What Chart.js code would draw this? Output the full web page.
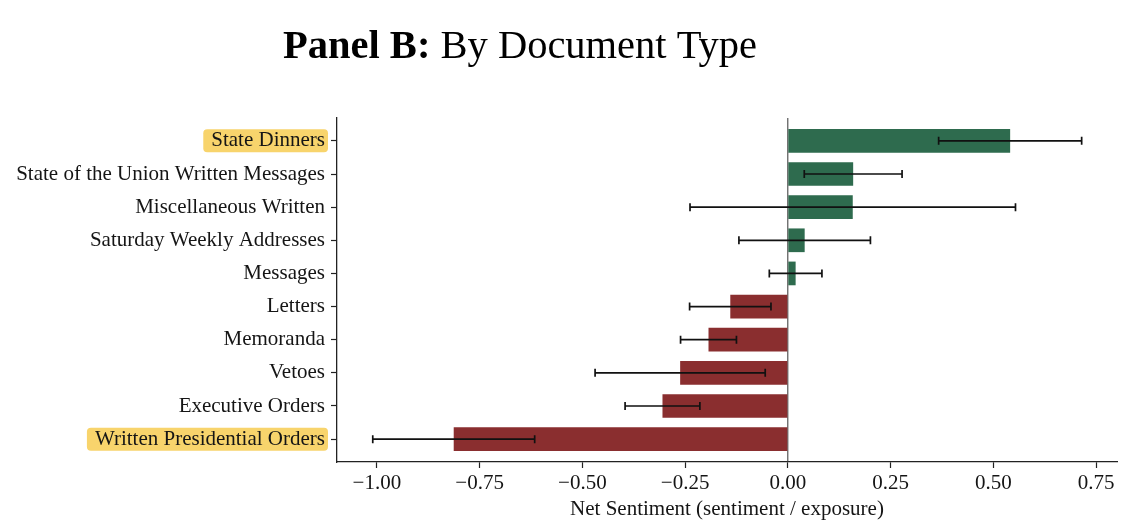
<!DOCTYPE html>
<html>
<head>
<meta charset="utf-8">
<title>Panel B: By Document Type</title>
<script src="https://cdn.jsdelivr.net/npm/chart.js@4.4.1/dist/chart.umd.min.js"></script>
<style>
  html, body { margin: 0; padding: 0; background: #fff; }
  #wrap { width: 1138px; height: 532px; position: relative; }
</style>
</head>
<body>
<div id="wrap"><canvas id="chart"></canvas></div>
<script>
// document types, top to bottom
const categories = [
  'State Dinners',
  'State of the Union Written Messages',
  'Miscellaneous Written',
  'Saturday Weekly Addresses',
  'Messages',
  'Letters',
  'Memoranda',
  'Vetoes',
  'Executive Orders',
  'Written Presidential Orders'
];
// net sentiment (sentiment / exposure)
const netSentiment = [0.541, 0.159, 0.158, 0.041, 0.019, -0.140, -0.193, -0.262, -0.305, -0.813];
// half width of the error bars
const errHalf = [0.174, 0.119, 0.396, 0.160, 0.064, 0.099, 0.068, 0.207, 0.091, 0.197];
const xTicks = [-1.00, -0.75, -0.50, -0.25, 0.00, 0.25, 0.50, 0.75];
const highlighted = ['State Dinners', 'Written Presidential Orders'];

const GREEN = '#2e6b4e';
const RED   = '#8a2e2f';
const INK   = '#151515';
const FONT  = '"Liberation Serif", "Times New Roman", serif';

// yellow boxes behind the highlighted labels
const labelHighlight = {
  id: 'labelHighlight',
  beforeDraw(chart) {
    const ctx = chart.ctx;
    const ys  = chart.scales.y;
    const right = ys.right - 6 - 6;
    ctx.save();
    ctx.font = '21px ' + FONT;
    ctx.fillStyle = '#f8d46c';
    highlighted.forEach(name => {
      const i  = categories.indexOf(name);
      const y  = ys.getPixelForValue(i);
      const w  = ctx.measureText(name).width;
      const x0 = right - w - 8, x1 = right + 3;
      ctx.beginPath();
      ctx.roundRect(x0, y - 11.5, x1 - x0, 23, 4);
      ctx.fill();
    });
    ctx.restore();
  }
};

// zero line and error bars
const errorBars = {
  id: 'errorBars',
  beforeDatasetsDraw(chart) {
    const { ctx, chartArea } = chart;
    const x0 = chart.scales.x.getPixelForValue(0);
    ctx.save();
    ctx.strokeStyle = '#333';
    ctx.lineWidth = 1;
    ctx.beginPath();
    ctx.moveTo(x0, chartArea.top);
    ctx.lineTo(x0, chartArea.bottom);
    ctx.stroke();
    ctx.restore();
  },
  afterDatasetsDraw(chart) {
    const ctx = chart.ctx;
    const xs = chart.scales.x, ys = chart.scales.y;
    ctx.save();
    ctx.strokeStyle = '#111';
    ctx.lineWidth = 1.7;
    netSentiment.forEach((v, i) => {
      const y  = ys.getPixelForValue(i);
      const a  = xs.getPixelForValue(v - errHalf[i]);
      const b  = xs.getPixelForValue(v + errHalf[i]);
      ctx.beginPath();
      ctx.moveTo(a, y); ctx.lineTo(b, y);
      ctx.moveTo(a, y - 4); ctx.lineTo(a, y + 4);
      ctx.moveTo(b, y - 4); ctx.lineTo(b, y + 4);
      ctx.stroke();
    });
    ctx.restore();
  }
};

// title with a bold part
const panelTitle = {
  id: 'panelTitle',
  afterDraw(chart) {
    const ctx = chart.ctx;
    ctx.save();
    ctx.fillStyle = '#000';
    ctx.textBaseline = 'alphabetic';
    ctx.textAlign = 'left';
    ctx.font = 'bold 40.5px ' + FONT;
    const bold = 'Panel B:';
    ctx.fillText(bold, 283, 58);
    const w = ctx.measureText(bold).width;
    ctx.font = '40.5px ' + FONT;
    ctx.fillText(' By Document Type', 283 + w, 58);
    ctx.restore();
  }
};

window.addEventListener('DOMContentLoaded', function () {
  const ctx = document.getElementById('chart').getContext('2d');
  new Chart(ctx, {
    type: 'bar',
    data: {
      datasets: [{
        data: netSentiment.map((v, i) => ({ x: v, y: i })),
        backgroundColor: netSentiment.map(v => v >= 0 ? GREEN : RED),
        borderWidth: 0,
        categoryPercentage: 1,
        barPercentage: 0.715
      }]
    },
    options: {
      indexAxis: 'y',
      responsive: true,
      maintainAspectRatio: false,
      animation: false,
      layout: { padding: { left: 0, right: 21, top: 118, bottom: 0 } },
      plugins: {
        legend: { display: false },
        tooltip: { enabled: false }
      },
      scales: {
        x: {
          type: 'linear',
          min: -1.097,
          max: 0.801,
          afterBuildTicks: s => { s.ticks = xTicks.map(v => ({ value: v })); },
          afterFit: s => { s.height = 70; },
          grid: { drawOnChartArea: false, tickLength: 6, tickWidth: 1.2, tickColor: '#222' },
          border: { display: true, color: '#222', width: 1.3 },
          ticks: {
            color: INK,
            padding: 3,
            font: { family: FONT, size: 21 },
            callback: v => (v < 0 ? '\u2212' : '') + Math.abs(v).toFixed(2)
          },
          title: {
            display: true,
            text: 'Net Sentiment (sentiment / exposure)',
            color: INK,
            font: { family: FONT, size: 21 },
            padding: { top: 0, bottom: 10 }
          }
        },
        y: {
          type: 'linear',
          reverse: true,
          offset: false,
          min: -0.69,
          max: 9.69,
          afterBuildTicks: s => { s.ticks = categories.map((c, i) => ({ value: i })); },
          afterFit: s => { s.width = 337; },
          grid: { offset: false, drawOnChartArea: false, tickLength: 6, tickWidth: 1.2, tickColor: '#222' },
          border: { display: true, color: '#222', width: 1.3 },
          ticks: {
            color: INK,
            padding: 6,
            autoSkip: false,
            font: { family: FONT, size: 21 },
            callback: v => categories[v]
          }
        }
      }
    },
    plugins: [labelHighlight, errorBars, panelTitle]
  });
});
</script>
</body>
</html>
